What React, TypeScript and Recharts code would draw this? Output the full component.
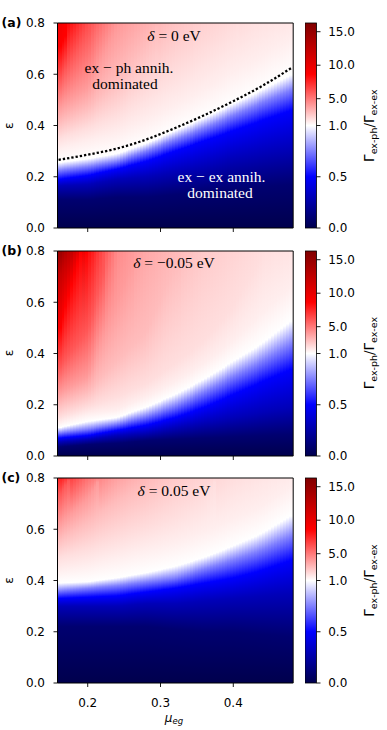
import React from 'react';
import { ComposedChart, Line, ReferenceArea, XAxis, YAxis } from 'recharts';

const MU_COLS = [0.16, 0.2, 0.24, 0.28, 0.32, 0.36, 0.4, 0.44, 0.48];
// ratio levels; for each column the ε where the ratio crosses the level (null: not reached below ε = 0.8)
// 0.5 is pure blue, 1 white, 8.65 pure red on this colour scale
const LEVELS = [0.1, 0.3, 0.5, 0.75, 1, 1.5, 2, 3, 4, 6, 8.65, 12];

// (a) δ = 0 eV
const A_LEVEL_EPS = [
  [0.11, 0.11, 0.12, 0.12, 0.13, 0.14, 0.15, 0.16, 0.17],
  [0.165, 0.17, 0.19, 0.2, 0.22, 0.24, 0.27, 0.29, 0.31],
  [0.19, 0.205, 0.23, 0.26, 0.3, 0.34, 0.38, 0.42, 0.46],
  [0.225, 0.24, 0.26, 0.3, 0.345, 0.39, 0.44, 0.49, 0.54],
  [0.255, 0.27, 0.29, 0.33, 0.38, 0.43, 0.485, 0.54, 0.6],
  [0.31, 0.34, 0.37, 0.42, 0.48, 0.54, 0.61, 0.67, 0.74],
  [0.35, 0.39, 0.44, 0.52, 0.6, 0.68, 0.77, null, null],
  [0.41, 0.47, 0.58, 0.72, null, null, null, null, null],
  [0.47, 0.55, 0.78, null, null, null, null, null, null],
  [0.57, 0.76, null, null, null, null, null, null, null],
  [0.7, null, null, null, null, null, null, null, null],
  [null, null, null, null, null, null, null, null, null],
];
const A_TOP = [9.5, 6.3, 4.1, 3.4, 2.8, 2.4, 2.1, 1.85, 1.7];

// (b) δ = -0.05 eV
const B_LEVEL_EPS = [
  [0.035, 0.045, 0.05, 0.06, 0.065, 0.07, 0.075, 0.08, 0.085],
  [0.055, 0.065, 0.08, 0.09, 0.11, 0.13, 0.15, 0.17, 0.19],
  [0.07, 0.08, 0.1, 0.12, 0.15, 0.19, 0.24, 0.29, 0.34],
  [0.09, 0.105, 0.125, 0.155, 0.195, 0.25, 0.31, 0.37, 0.44],
  [0.11, 0.135, 0.15, 0.19, 0.24, 0.3, 0.37, 0.44, 0.53],
  [0.13, 0.165, 0.18, 0.23, 0.29, 0.36, 0.45, 0.56, 0.66],
  [0.15, 0.19, 0.23, 0.28, 0.36, 0.45, 0.58, 0.78, null],
  [0.2, 0.25, 0.37, 0.48, 0.74, null, null, null, null],
  [0.245, 0.31, 0.6, null, null, null, null, null, null],
  [0.34, 0.49, null, null, null, null, null, null, null],
  [0.48, null, null, null, null, null, null, null, null],
  [0.7, null, null, null, null, null, null, null, null],
];
const B_TOP = [15, 8.4, 4.5, 3.6, 3.1, 2.6, 2.3, 2.0, 1.8];

// (c) δ = 0.05 eV
const C_LEVEL_EPS = [
  [0.22, 0.22, 0.22, 0.22, 0.21, 0.2, 0.2, 0.19, 0.18],
  [0.3, 0.3, 0.3, 0.31, 0.31, 0.32, 0.33, 0.34, 0.35],
  [0.33, 0.335, 0.34, 0.355, 0.37, 0.39, 0.41, 0.44, 0.48],
  [0.36, 0.37, 0.38, 0.395, 0.41, 0.445, 0.48, 0.52, 0.575],
  [0.39, 0.395, 0.41, 0.43, 0.455, 0.49, 0.535, 0.585, 0.655],
  [0.44, 0.46, 0.49, 0.52, 0.55, 0.59, 0.64, 0.69, 0.77],
  [0.49, 0.52, 0.56, 0.6, 0.65, 0.72, null, null, null],
  [0.56, 0.63, 0.71, 0.78, null, null, null, null, null],
  [0.62, 0.72, null, null, null, null, null, null, null],
  [0.73, null, null, null, null, null, null, null, null],
  [null, null, null, null, null, null, null, null, null],
  [null, null, null, null, null, null, null, null, null],
];
const C_TOP = [7.8, 5.2, 3.8, 3.1, 2.6, 2.3, 2.0, 1.8, 1.6];

// dotted crossover line in (a)
const BOUNDARY_MU = [0.16, 0.2, 0.24, 0.28, 0.32, 0.36, 0.4, 0.44, 0.48];
const BOUNDARY_EPS = [0.266, 0.286, 0.31, 0.345, 0.39, 0.44, 0.495, 0.555, 0.625];

const MU_TICKS = [0.2, 0.3, 0.4];
const EPS_TICKS = [0, 0.2, 0.4, 0.6, 0.8];
const CBAR_TICKS = [0, 0.5, 1, 5, 10, 15];
const CBAR_LABELS = ['0.0', '0.5', '1.0', '5.0', '10.0', '15.0'];

const VMAX = 16.3;
const X_MIN = 0.1585;
const X_MAX = 0.4823;
const PLOT_H = 205;
const STRIPS = 10; // drawing strips between two read columns
const SANS = 'DejaVu Sans';
const SERIF = 'Liberation Serif';

// two-slope norm, centre at 1
function norm(v: number) {
  return v <= 1 ? v / 2 : 0.5 + (v - 1) / (2 * (VMAX - 1));
}

// matplotlib "seismic"
function seismic(v: number) {
  const f = Math.max(0, Math.min(1, norm(v)));
  let r = 0, g = 0, b = 0;
  if (f < 0.25) {
    b = 0.3 + (0.7 * f) / 0.25;
  } else if (f < 0.5) {
    const t = (f - 0.25) / 0.25;
    r = t; g = t; b = 1;
  } else if (f < 0.75) {
    const t = (f - 0.5) / 0.25;
    r = 1; g = 1 - t; b = 1 - t;
  } else {
    const t = (f - 0.75) / 0.25;
    r = 1 - 0.5 * t;
  }
  return `rgb(${Math.round(r * 255)},${Math.round(g * 255)},${Math.round(b * 255)})`;
}

// gradient stops for a strip at fraction t between column i and i+1 (level lines drawn straight between columns)
function stripStops(levelEps: (number | null)[][], top: number[], i: number, t: number) {
  const topV = top[i] + (top[i + 1] - top[i]) * t;
  const stops = [{ off: 0, v: 0 }];
  LEVELS.forEach((lv, k) => {
    const a = levelEps[k][i] ?? 0.9;
    const b = levelEps[k][i + 1] ?? 0.9;
    const e = a + (b - a) * t;
    if (e < 0.8 && lv < topV) stops.push({ off: e / 0.8, v: lv });
  });
  stops.push({ off: 1, v: topV });
  return stops;
}

const PANELS = [
  { key: 'a', letter: '(a)', top: 23.2, levelEps: A_LEVEL_EPS, topVals: A_TOP, delta: '0' },
  { key: 'b', letter: '(b)', top: 250.6, levelEps: B_LEVEL_EPS, topVals: B_TOP, delta: '\u22120.05' },
  { key: 'c', letter: '(c)', top: 478.0, levelEps: C_LEVEL_EPS, topVals: C_TOP, delta: '0.05' },
];

const STRIP_LIST = MU_COLS.slice(0, -1).flatMap((_, i) =>
  Array.from({ length: STRIPS }, (_, s) => ({ i, s, t: (s + 0.5) / STRIPS }))
);

function Defs() {
  return (
    <svg width={1} height={1} style={{ position: 'absolute', left: 0, top: 0 }} aria-hidden>
      <defs>
        <linearGradient id="cmap" x1="0" y1="1" x2="0" y2="0">
          {[0, 0.5, 1, 8.65, VMAX].map((v, i) => (
            <stop key={i} offset={norm(v)} stopColor={seismic(v)} />
          ))}
        </linearGradient>
        {PANELS.map((p) =>
          STRIP_LIST.map(({ i, s, t }) => (
            <linearGradient key={`${p.key}${i}-${s}`} id={`heat-${p.key}-${i}-${s}`} x1="0" y1="1" x2="0" y2="0">
              {stripStops(p.levelEps, p.topVals, i, t).map((st, j) => (
                <stop key={j} offset={st.off} stopColor={seismic(st.v)} />
              ))}
            </linearGradient>
          ))
        )}
      </defs>
    </svg>
  );
}

function heatAreas(key: string) {
  const last = MU_COLS.length - 2;
  return STRIP_LIST.map(({ i, s }) => {
    const d = MU_COLS[i + 1] - MU_COLS[i];
    const x1 = i === 0 && s === 0 ? X_MIN : MU_COLS[i] + (s * d) / STRIPS;
    const x2 = i === last && s === STRIPS - 1 ? X_MAX : MU_COLS[i] + ((s + 1) * d) / STRIPS + 0.002;
    const fill = `url(#heat-${key}-${i}-${s})`;
    return (
      <ReferenceArea
        key={`h${i}-${s}`}
        x1={x1}
        x2={Math.min(x2, X_MAX)}
        y1={0}
        y2={0.8}
        ifOverflow="visible"
        shape={(p: any) => (
          <rect x={p.x} y={p.y} width={p.width} height={p.height} fill={fill} shapeRendering="crispEdges" />
        )}
      />
    );
  });
}

const tickStyle = { fill: '#000', fontSize: 12, fontFamily: SANS };

function HeatPanel({ panel, showX }: { panel: (typeof PANELS)[number]; showX: boolean }) {
  const data =
    panel.key === 'a'
      ? BOUNDARY_MU.map((mu, i) => ({ mu, eps: BOUNDARY_EPS[i] }))
      : MU_COLS.map((mu) => ({ mu }));
  return (
    <div style={{ position: 'absolute', left: 0, top: panel.top - 10 }}>
      <ComposedChart
        width={295}
        height={10 + PLOT_H + 40}
        data={data}
        margin={{ top: 10, right: 1.8, bottom: 0, left: 0 }}
      >
        <XAxis
          type="number"
          dataKey="mu"
          domain={[X_MIN, X_MAX]}
          ticks={MU_TICKS}
          allowDataOverflow
          axisLine={false}
          tickLine={{ stroke: '#000', strokeWidth: 0.9 }}
          tickSize={4}
          tickMargin={11}
          height={40}
          interval={0}
          tick={tickStyle}
          tickFormatter={(v: number) => (showX ? v.toFixed(1) : '')}
        />
        <YAxis
          type="number"
          domain={[0, 0.8]}
          ticks={EPS_TICKS}
          allowDataOverflow
          width={57.5}
          axisLine={false}
          tickLine={{ stroke: '#000', strokeWidth: 0.9 }}
          tickSize={4}
          tickMargin={8.5}
          interval={0}
          tick={tickStyle}
          tickFormatter={(v: number) => v.toFixed(1)}
        />
        {heatAreas(panel.key)}
        {panel.key === 'a' && (
          <Line
            dataKey="eps"
            type="monotone"
            stroke="#000"
            strokeWidth={2.3}
            strokeDasharray="2.3 2"
            dot={false}
            activeDot={false}
            isAnimationActive={false}
          />
        )}
        <ReferenceArea
          x1={X_MIN}
          x2={X_MAX}
          y1={0}
          y2={0.8}
          ifOverflow="visible"
          fill="none"
          stroke="#000"
          strokeWidth={1}
        />
      </ComposedChart>
    </div>
  );
}

const CBAR_DATA = [{ x: 0 }, { x: 1 }];

function Colorbar({ top }: { top: number }) {
  const fTicks = CBAR_TICKS.map(norm);
  return (
    <div style={{ position: 'absolute', left: 304.5, top: top - 10 }}>
      <ComposedChart
        width={72}
        height={10 + PLOT_H + 10}
        data={CBAR_DATA}
        margin={{ top: 10, right: 0, bottom: 0, left: 0 }}
      >
        <XAxis
          type="number"
          dataKey="x"
          domain={[0, 1]}
          allowDataOverflow
          height={10}
          tick={false}
          tickLine={false}
          axisLine={false}
        />
        <YAxis
          orientation="right"
          type="number"
          domain={[0, 1]}
          ticks={fTicks}
          allowDataOverflow
          width={60.5}
          axisLine={false}
          tickLine={{ stroke: '#000', strokeWidth: 0.9 }}
          tickSize={4}
          tickMargin={7.7}
          interval={0}
          tick={tickStyle}
          tickFormatter={(f: number) => {
            const i = fTicks.findIndex((t) => Math.abs(t - f) < 1e-6);
            return i >= 0 ? CBAR_LABELS[i] : '';
          }}
        />
        <ReferenceArea
          x1={0}
          x2={1}
          y1={0}
          y2={1}
          ifOverflow="visible"
          shape={(p: any) => (
            <rect
              x={p.x}
              y={p.y}
              width={p.width}
              height={p.height}
              fill="url(#cmap)"
              stroke="#000"
              strokeWidth={0.8}
            />
          )}
        />
      </ComposedChart>
    </div>
  );
}

function Overlay() {
  return (
    <svg
      width={387}
      height={730}
      style={{ position: 'absolute', left: 0, top: 0, pointerEvents: 'none' }}
    >
      {PANELS.map((p) => (
        <g key={p.key}>
          <text x={1.5} y={p.top + 4} fontFamily={SANS} fontWeight="bold" fontSize={12.5} fill="#000">
            {p.letter}
          </text>
          <text
            transform={`translate(13.3, ${p.top + PLOT_H / 2}) rotate(-90)`}
            textAnchor="middle"
            fontFamily={SANS}
            fontSize={12}
            fill="#000"
          >
            ε
          </text>
          <text x={174} y={p.top + 17.5} textAnchor="middle" fontFamily={SERIF} fontSize={15.5} fill="#000">
            <tspan fontStyle="italic">δ</tspan> = {p.delta} eV
          </text>
          <text
            transform={`translate(374, ${p.top + PLOT_H / 2}) rotate(-90)`}
            textAnchor="middle"
            fontFamily={SANS}
            fontSize={13.5}
            fill="#000"
          >
            Γ<tspan fontSize={9.5} dy={3}>ex-ph</tspan>
            <tspan dy={-3}>/Γ</tspan>
            <tspan fontSize={9.5} dy={3}>ex-ex</tspan>
          </text>
        </g>
      ))}
      <text x={129} y={72.7} textAnchor="middle" fontFamily={SERIF} fontSize={15.5} fill="#000">
        ex − ph annih.
      </text>
      <text x={125} y={88.7} textAnchor="middle" fontFamily={SERIF} fontSize={15.5} fill="#000">
        dominated
      </text>
      <text x={221.5} y={181.5} textAnchor="middle" fontFamily={SERIF} fontSize={15.5} fill="#fff">
        ex − ex annih.
      </text>
      <text x={220} y={197.5} textAnchor="middle" fontFamily={SERIF} fontSize={15.5} fill="#fff">
        dominated
      </text>
      <text x={174} y={721.5} textAnchor="middle" fontFamily={SANS} fontSize={12} fill="#000">
        <tspan fontStyle="italic">μ</tspan>
        <tspan fontStyle="italic" fontSize={8.5} dy={2.5}>eg</tspan>
      </text>
    </svg>
  );
}

export default function App() {
  return (
    <div style={{ position: 'absolute', left: 0, top: 0, width: 387, height: 730, background: '#fff' }}>
      <Defs />
      {PANELS.map((p, i) => (
        <HeatPanel key={p.key} panel={p} showX={i === PANELS.length - 1} />
      ))}
      {PANELS.map((p) => (
        <Colorbar key={p.key} top={p.top} />
      ))}
      <Overlay />
    </div>
  );
}
